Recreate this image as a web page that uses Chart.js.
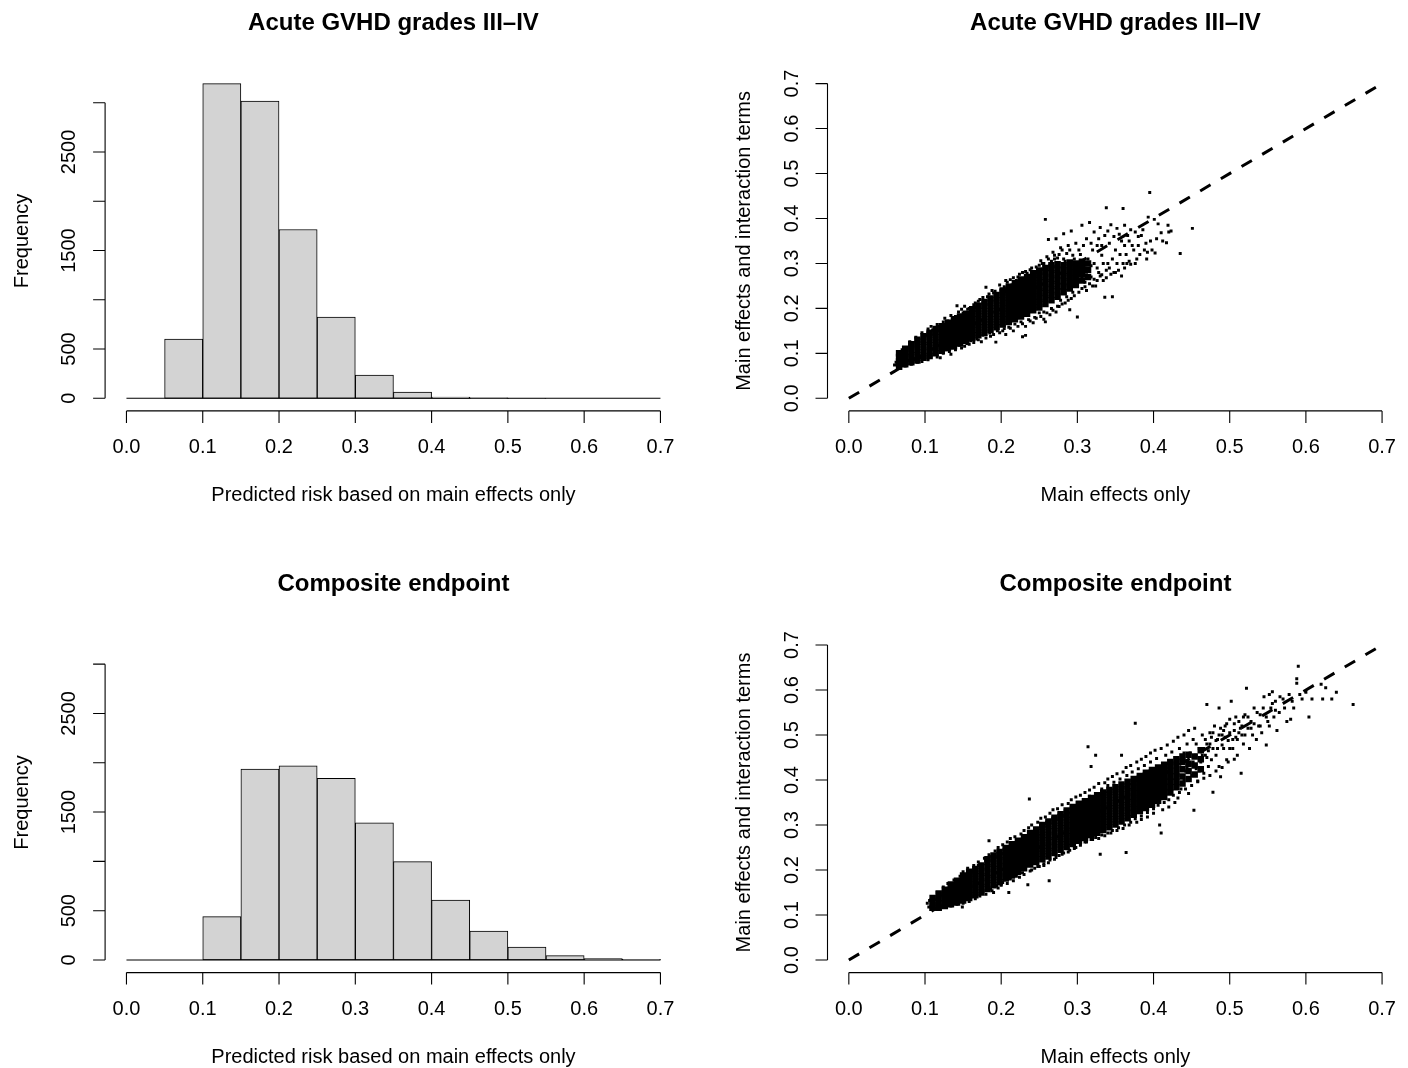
<!DOCTYPE html>
<html>
<head>
<meta charset="utf-8">
<title>Predicted risk: main effects vs interaction terms</title>
<script src="https://cdn.jsdelivr.net/npm/chart.js@4.4.1/dist/chart.umd.min.js"></script>
<style>
  html, body { margin: 0; padding: 0; background: #fff; }
  #wrap { position: relative; width: 1408px; height: 1068px; }
  #wrap canvas { position: absolute; left: 0; top: 0; }
</style>
</head>
<body>
<div id="wrap">
  <canvas id="acuteHist" width="1408" height="1068"></canvas>
  <canvas id="acuteScatter" width="1408" height="1068"></canvas>
  <canvas id="compHist" width="1408" height="1068"></canvas>
  <canvas id="compScatter" width="1408" height="1068"></canvas>
</div>
<script>
// --- data ---
const binEdges = [0, 0.05, 0.1, 0.15, 0.2, 0.25, 0.3, 0.35, 0.4, 0.45, 0.5, 0.55, 0.6, 0.65, 0.7];
const acuteCounts = [0, 601, 3194, 3017, 1713, 824, 236, 64, 13, 5, 1, 0, 0, 0];
const compositeCounts = [0, 0, 439, 1936, 1970, 1841, 1392, 997, 608, 294, 132, 44, 14, 6];

const riskTicks = [0, 0.1, 0.2, 0.3, 0.4, 0.5, 0.6, 0.7];
const riskLabels = ['0.0', '0.1', '0.2', '0.3', '0.4', '0.5', '0.6', '0.7'];
const freqTicks = [0, 500, 1000, 1500, 2000, 2500, 3000];
const freqLabels = ['0', '500', '', '1500', '', '2500', ''];
const identityLine = [0, 0.7];

// dense part of the clouds: x columns and the y values seen in each
const acuteCoreX = [0.066, 0.074, 0.082, 0.090, 0.098, 0.106, 0.114, 0.122, 0.130, 0.138, 0.146, 0.154, 0.162, 0.170, 0.178,
  0.186, 0.194, 0.202, 0.210, 0.218, 0.226, 0.234, 0.242, 0.250, 0.258, 0.266, 0.274, 0.282, 0.290, 0.298, 0.306, 0.314];
const acuteCoreY = [
  [0.070, 0.082, 0.092, 0.100], [0.076, 0.088, 0.100, 0.110], [0.080, 0.092, 0.104, 0.116, 0.120],
  [0.084, 0.096, 0.108, 0.120, 0.130], [0.090, 0.102, 0.114, 0.126, 0.138], [0.094, 0.106, 0.118, 0.130, 0.142, 0.146],
  [0.100, 0.112, 0.124, 0.136, 0.148, 0.154], [0.106, 0.118, 0.130, 0.142, 0.154, 0.160], [0.112, 0.124, 0.136, 0.148, 0.160, 0.168],
  [0.116, 0.128, 0.140, 0.152, 0.164, 0.176], [0.122, 0.134, 0.146, 0.158, 0.170, 0.182], [0.128, 0.140, 0.152, 0.164, 0.176, 0.188],
  [0.134, 0.146, 0.158, 0.170, 0.182, 0.194, 0.198], [0.140, 0.152, 0.164, 0.176, 0.188, 0.200, 0.206],
  [0.146, 0.158, 0.170, 0.182, 0.194, 0.206, 0.214], [0.152, 0.164, 0.176, 0.188, 0.200, 0.212, 0.222],
  [0.158, 0.170, 0.182, 0.194, 0.206, 0.218, 0.230], [0.164, 0.176, 0.188, 0.200, 0.212, 0.224, 0.236, 0.240],
  [0.170, 0.182, 0.194, 0.206, 0.218, 0.230, 0.242, 0.248], [0.176, 0.188, 0.200, 0.212, 0.224, 0.236, 0.248, 0.256],
  [0.182, 0.194, 0.206, 0.218, 0.230, 0.242, 0.254, 0.264], [0.188, 0.200, 0.212, 0.224, 0.236, 0.248, 0.260, 0.270],
  [0.196, 0.208, 0.220, 0.232, 0.244, 0.256, 0.268, 0.278], [0.202, 0.214, 0.226, 0.238, 0.250, 0.262, 0.274, 0.284],
  [0.210, 0.222, 0.234, 0.246, 0.258, 0.270, 0.282, 0.290], [0.218, 0.230, 0.242, 0.254, 0.266, 0.278, 0.290, 0.296],
  [0.226, 0.238, 0.250, 0.262, 0.274, 0.286, 0.298], [0.236, 0.248, 0.260, 0.272, 0.284, 0.296],
  [0.244, 0.256, 0.268, 0.280, 0.292, 0.302], [0.252, 0.264, 0.276, 0.288, 0.300], [0.262, 0.276, 0.290, 0.304],
  [0.270, 0.286, 0.300]
];
// scattered points around and beyond the dense part
const acuteSpread = [
  [0.060, 0.074], [0.062, 0.080], [0.064, 0.086], [0.068, 0.075], [0.070, 0.098], [0.072, 0.080], [0.076, 0.112], [0.078, 0.084],
  [0.084, 0.120], [0.086, 0.088], [0.092, 0.130], [0.094, 0.090], [0.100, 0.092], [0.102, 0.140], [0.105, 0.090], [0.110, 0.152],
  [0.112, 0.098], [0.118, 0.160], [0.120, 0.090], [0.121, 0.103], [0.128, 0.108], [0.130, 0.172], [0.136, 0.112], [0.140, 0.182],
  [0.142, 0.206], [0.145, 0.118], [0.150, 0.190], [0.155, 0.122], [0.158, 0.200], [0.160, 0.128], [0.166, 0.212], [0.168, 0.132],
  [0.172, 0.220], [0.176, 0.140], [0.180, 0.247], [0.182, 0.226], [0.185, 0.145], [0.190, 0.234], [0.193, 0.125], [0.195, 0.150],
  [0.200, 0.242], [0.204, 0.155], [0.206, 0.262], [0.210, 0.158], [0.214, 0.252], [0.218, 0.165], [0.222, 0.270], [0.226, 0.170],
  [0.228, 0.137], [0.232, 0.140], [0.234, 0.278], [0.236, 0.175], [0.240, 0.290], [0.244, 0.180], [0.248, 0.284], [0.250, 0.190],
  [0.254, 0.300], [0.256, 0.192], [0.258, 0.170], [0.258, 0.398], [0.262, 0.353], [0.262, 0.310], [0.264, 0.296], [0.266, 0.200],
  [0.268, 0.325], [0.270, 0.310], [0.272, 0.355], [0.274, 0.205], [0.276, 0.320], [0.278, 0.218], [0.280, 0.330], [0.282, 0.366],
  [0.284, 0.305], [0.286, 0.226], [0.288, 0.340], [0.290, 0.197], [0.292, 0.372], [0.292, 0.250], [0.294, 0.236], [0.296, 0.310],
  [0.296, 0.265], [0.298, 0.280], [0.300, 0.181], [0.300, 0.250], [0.300, 0.275], [0.302, 0.300], [0.304, 0.320], [0.304, 0.285],
  [0.306, 0.385], [0.306, 0.268], [0.308, 0.260], [0.310, 0.290], [0.310, 0.258], [0.312, 0.240], [0.312, 0.275], [0.314, 0.310],
  [0.316, 0.391], [0.316, 0.285], [0.318, 0.270], [0.318, 0.295], [0.320, 0.330], [0.322, 0.300], [0.322, 0.265], [0.324, 0.250],
  [0.326, 0.340], [0.326, 0.290], [0.328, 0.280], [0.330, 0.380], [0.330, 0.272], [0.332, 0.318], [0.334, 0.262], [0.334, 0.300],
  [0.336, 0.225], [0.338, 0.424], [0.338, 0.285], [0.340, 0.300], [0.342, 0.345], [0.342, 0.290], [0.344, 0.386], [0.346, 0.226],
  [0.346, 0.310], [0.348, 0.280], [0.350, 0.330], [0.350, 0.280], [0.352, 0.300], [0.355, 0.365], [0.356, 0.320], [0.358, 0.272],
  [0.360, 0.422], [0.360, 0.300], [0.362, 0.340], [0.364, 0.320], [0.365, 0.300], [0.368, 0.350], [0.370, 0.298], [0.374, 0.330],
  [0.376, 0.370], [0.378, 0.310], [0.380, 0.340], [0.384, 0.362], [0.388, 0.330], [0.391, 0.310], [0.393, 0.403], [0.395, 0.458],
  [0.396, 0.350], [0.398, 0.330], [0.401, 0.398], [0.402, 0.323], [0.404, 0.355], [0.406, 0.388], [0.410, 0.368], [0.412, 0.350],
  [0.417, 0.346], [0.419, 0.385], [0.420, 0.370], [0.423, 0.372], [0.435, 0.322], [0.451, 0.378],
  // upper edge
  [0.070, 0.108], [0.080, 0.126], [0.088, 0.136], [0.096, 0.146], [0.104, 0.154], [0.108, 0.160], [0.116, 0.164], [0.124, 0.170],
  [0.126, 0.178], [0.134, 0.184], [0.144, 0.192], [0.148, 0.198], [0.152, 0.205], [0.156, 0.198], [0.164, 0.208], [0.170, 0.216],
  [0.176, 0.224], [0.184, 0.232], [0.188, 0.240], [0.192, 0.238], [0.198, 0.252], [0.204, 0.248], [0.208, 0.258], [0.212, 0.264],
  [0.216, 0.268], [0.220, 0.262], [0.224, 0.276], [0.228, 0.280], [0.232, 0.282], [0.238, 0.286], [0.240, 0.278], [0.246, 0.292],
  [0.250, 0.296], [0.252, 0.306], [0.256, 0.300], [0.260, 0.315], [0.266, 0.305], [0.270, 0.318], [0.274, 0.312], [0.278, 0.335],
  [0.282, 0.310], [0.286, 0.322], [0.290, 0.330], [0.294, 0.318], [0.298, 0.345], [0.302, 0.330], [0.308, 0.340], [0.312, 0.355],
  [0.318, 0.345], [0.322, 0.370], [0.328, 0.355], [0.332, 0.340], [0.336, 0.362], [0.340, 0.372], [0.348, 0.360], [0.352, 0.378],
  [0.358, 0.350], [0.362, 0.385], [0.366, 0.362], [0.370, 0.375], [0.372, 0.340], [0.380, 0.360], [0.386, 0.375], [0.390, 0.345],
  // lower edge
  [0.074, 0.072], [0.082, 0.076], [0.090, 0.080], [0.096, 0.082], [0.104, 0.086], [0.108, 0.094], [0.116, 0.092], [0.124, 0.100],
  [0.132, 0.104], [0.134, 0.098], [0.140, 0.108], [0.148, 0.112], [0.152, 0.116], [0.158, 0.120], [0.164, 0.124], [0.170, 0.130],
  [0.174, 0.126], [0.180, 0.134], [0.186, 0.138], [0.190, 0.142], [0.198, 0.146], [0.202, 0.150], [0.206, 0.142], [0.212, 0.156],
  [0.216, 0.150], [0.222, 0.160], [0.228, 0.166], [0.232, 0.160], [0.238, 0.172], [0.242, 0.168], [0.246, 0.178], [0.252, 0.182],
  [0.256, 0.176], [0.260, 0.190], [0.264, 0.186], [0.268, 0.196], [0.272, 0.192], [0.276, 0.204], [0.280, 0.210], [0.284, 0.212],
  [0.288, 0.218], [0.292, 0.222], [0.296, 0.228], [0.302, 0.236], [0.306, 0.244], [0.310, 0.248], [0.316, 0.255], [0.320, 0.250],
  [0.326, 0.262], [0.332, 0.275], [0.338, 0.268], [0.344, 0.276], [0.354, 0.285], [0.362, 0.290], [0.368, 0.305], [0.376, 0.300],
  [0.382, 0.320], [0.392, 0.325]
];

const compCoreX = [0.110, 0.118, 0.126, 0.134, 0.142, 0.150, 0.158, 0.166, 0.174, 0.182, 0.190, 0.198, 0.206, 0.214, 0.222,
  0.230, 0.238, 0.246, 0.254, 0.262, 0.270, 0.278, 0.286, 0.294, 0.302, 0.310, 0.318, 0.326, 0.334, 0.342, 0.350, 0.358,
  0.366, 0.374, 0.382, 0.390, 0.398, 0.406, 0.414, 0.422, 0.430, 0.438, 0.446, 0.454, 0.462];
const compCoreY = [
  [0.116, 0.122, 0.130, 0.138], [0.116, 0.126, 0.138, 0.148], [0.120, 0.132, 0.144, 0.156], [0.124, 0.136, 0.148, 0.160, 0.168],
  [0.128, 0.140, 0.152, 0.164, 0.176], [0.132, 0.144, 0.156, 0.168, 0.180, 0.188], [0.138, 0.150, 0.162, 0.174, 0.186, 0.196],
  [0.144, 0.156, 0.168, 0.180, 0.192, 0.202], [0.150, 0.162, 0.174, 0.186, 0.198, 0.210],
  [0.158, 0.170, 0.182, 0.194, 0.206, 0.218, 0.224], [0.166, 0.178, 0.190, 0.202, 0.214, 0.226, 0.232],
  [0.173, 0.185, 0.197, 0.209, 0.221, 0.233, 0.240], [0.181, 0.193, 0.205, 0.217, 0.229, 0.241, 0.249],
  [0.188, 0.200, 0.212, 0.224, 0.236, 0.248, 0.257], [0.196, 0.208, 0.220, 0.232, 0.244, 0.256, 0.265],
  [0.204, 0.216, 0.228, 0.240, 0.252, 0.264, 0.273], [0.212, 0.224, 0.236, 0.248, 0.260, 0.272, 0.282],
  [0.218, 0.230, 0.242, 0.254, 0.266, 0.278, 0.290], [0.224, 0.236, 0.248, 0.260, 0.272, 0.284, 0.296, 0.300],
  [0.230, 0.242, 0.254, 0.266, 0.278, 0.290, 0.302, 0.308], [0.238, 0.250, 0.262, 0.274, 0.286, 0.298, 0.310, 0.316],
  [0.245, 0.257, 0.269, 0.281, 0.293, 0.305, 0.317, 0.324], [0.251, 0.263, 0.275, 0.287, 0.299, 0.311, 0.323, 0.332],
  [0.258, 0.270, 0.282, 0.294, 0.306, 0.318, 0.330, 0.340], [0.265, 0.277, 0.289, 0.301, 0.313, 0.325, 0.337, 0.347],
  [0.271, 0.283, 0.295, 0.307, 0.319, 0.331, 0.343, 0.353], [0.278, 0.290, 0.302, 0.314, 0.326, 0.338, 0.350, 0.360],
  [0.283, 0.295, 0.307, 0.319, 0.331, 0.343, 0.356, 0.366], [0.289, 0.301, 0.313, 0.325, 0.337, 0.349, 0.362, 0.372],
  [0.295, 0.307, 0.319, 0.331, 0.343, 0.355, 0.368, 0.378], [0.301, 0.313, 0.325, 0.337, 0.349, 0.361, 0.374, 0.384],
  [0.308, 0.320, 0.332, 0.344, 0.356, 0.368, 0.380, 0.390], [0.315, 0.327, 0.339, 0.351, 0.363, 0.375, 0.386, 0.396],
  [0.323, 0.335, 0.347, 0.359, 0.371, 0.383, 0.395, 0.402], [0.331, 0.343, 0.355, 0.367, 0.379, 0.391, 0.403, 0.409],
  [0.338, 0.350, 0.362, 0.374, 0.386, 0.398, 0.410, 0.416], [0.345, 0.357, 0.369, 0.381, 0.393, 0.405, 0.417, 0.422],
  [0.354, 0.366, 0.378, 0.390, 0.402, 0.416, 0.428], [0.362, 0.374, 0.386, 0.398, 0.410, 0.422, 0.434],
  [0.372, 0.384, 0.396, 0.408, 0.420, 0.432, 0.440], [0.384, 0.396, 0.408, 0.420, 0.434, 0.446],
  [0.392, 0.408, 0.424, 0.440, 0.452], [0.402, 0.420, 0.436, 0.456], [0.412, 0.432, 0.452], [0.424, 0.446, 0.466]
];
const compSpread = [
  [0.103, 0.126], [0.105, 0.118], [0.106, 0.132], [0.108, 0.112], [0.112, 0.138], [0.114, 0.114], [0.120, 0.146], [0.122, 0.120],
  [0.128, 0.156], [0.130, 0.125], [0.136, 0.166], [0.140, 0.130], [0.144, 0.176], [0.149, 0.118], [0.152, 0.134], [0.154, 0.186],
  [0.160, 0.140], [0.162, 0.196], [0.168, 0.145], [0.170, 0.210], [0.176, 0.152], [0.180, 0.222], [0.184, 0.265], [0.186, 0.158],
  [0.188, 0.230], [0.190, 0.150], [0.194, 0.165], [0.196, 0.240], [0.202, 0.172], [0.204, 0.250], [0.210, 0.150], [0.212, 0.180],
  [0.216, 0.258], [0.220, 0.186], [0.224, 0.266], [0.228, 0.194], [0.232, 0.275], [0.235, 0.167], [0.237, 0.358], [0.240, 0.200],
  [0.244, 0.286], [0.248, 0.208], [0.252, 0.296], [0.256, 0.214], [0.260, 0.304], [0.263, 0.176], [0.264, 0.222], [0.268, 0.316],
  [0.272, 0.228], [0.276, 0.325], [0.280, 0.235], [0.284, 0.332], [0.288, 0.240], [0.292, 0.340], [0.296, 0.248], [0.300, 0.350],
  [0.304, 0.255], [0.308, 0.356], [0.312, 0.262], [0.314, 0.474], [0.316, 0.364], [0.318, 0.430], [0.320, 0.268], [0.324, 0.455],
  [0.325, 0.370], [0.328, 0.270], [0.330, 0.235], [0.332, 0.380], [0.336, 0.276], [0.340, 0.388], [0.344, 0.282], [0.348, 0.395],
  [0.352, 0.288], [0.356, 0.402], [0.358, 0.455], [0.360, 0.292], [0.364, 0.239], [0.365, 0.410], [0.368, 0.300], [0.372, 0.418],
  [0.376, 0.526], [0.378, 0.306], [0.380, 0.425], [0.384, 0.312], [0.388, 0.432], [0.392, 0.318], [0.396, 0.440], [0.400, 0.326],
  [0.404, 0.448], [0.408, 0.300], [0.410, 0.282], [0.412, 0.334], [0.416, 0.455], [0.420, 0.340], [0.424, 0.462], [0.428, 0.350],
  [0.432, 0.360], [0.432, 0.445], [0.434, 0.470], [0.436, 0.380], [0.436, 0.410], [0.438, 0.448], [0.440, 0.400], [0.440, 0.460],
  [0.442, 0.420], [0.444, 0.480], [0.444, 0.430], [0.446, 0.370], [0.448, 0.435], [0.448, 0.460], [0.450, 0.410], [0.452, 0.490],
  [0.452, 0.440], [0.453, 0.333], [0.455, 0.455], [0.456, 0.425], [0.456, 0.480], [0.458, 0.398], [0.460, 0.470], [0.460, 0.420],
  [0.462, 0.440], [0.464, 0.500], [0.464, 0.455], [0.466, 0.415], [0.468, 0.455], [0.468, 0.490], [0.470, 0.568], [0.470, 0.480],
  [0.472, 0.430], [0.472, 0.465], [0.474, 0.505], [0.476, 0.445], [0.476, 0.495], [0.478, 0.373], [0.478, 0.470], [0.480, 0.520],
  [0.482, 0.455], [0.484, 0.490], [0.484, 0.470], [0.486, 0.560], [0.486, 0.430], [0.488, 0.407], [0.488, 0.515], [0.490, 0.500],
  [0.492, 0.470], [0.494, 0.520], [0.494, 0.495], [0.496, 0.445], [0.498, 0.488], [0.500, 0.535], [0.500, 0.470], [0.502, 0.575],
  [0.504, 0.470], [0.506, 0.510], [0.506, 0.525], [0.508, 0.495], [0.510, 0.455], [0.510, 0.490], [0.512, 0.530], [0.514, 0.515],
  [0.515, 0.415], [0.516, 0.500], [0.518, 0.480], [0.518, 0.540], [0.520, 0.545], [0.522, 0.604], [0.524, 0.515], [0.526, 0.470],
  [0.528, 0.530], [0.530, 0.500], [0.532, 0.560], [0.535, 0.490], [0.538, 0.520], [0.540, 0.545], [0.542, 0.505], [0.545, 0.585],
  [0.548, 0.478], [0.550, 0.530], [0.552, 0.590], [0.554, 0.560], [0.556, 0.596], [0.558, 0.540], [0.560, 0.575], [0.562, 0.510],
  [0.565, 0.550], [0.570, 0.580], [0.575, 0.530], [0.580, 0.535], [0.584, 0.560], [0.588, 0.615], [0.588, 0.625], [0.590, 0.653],
  [0.595, 0.580], [0.600, 0.595], [0.604, 0.540], [0.608, 0.580], [0.620, 0.613], [0.622, 0.580], [0.626, 0.605], [0.634, 0.580],
  [0.640, 0.595], [0.662, 0.568],
  // upper edge
  [0.116, 0.150], [0.124, 0.162], [0.130, 0.170], [0.138, 0.178], [0.146, 0.186], [0.150, 0.196], [0.156, 0.204], [0.164, 0.210],
  [0.170, 0.218], [0.178, 0.226], [0.184, 0.234], [0.192, 0.242], [0.196, 0.250], [0.202, 0.256], [0.208, 0.262], [0.212, 0.270],
  [0.218, 0.274], [0.226, 0.280], [0.230, 0.288], [0.236, 0.294], [0.240, 0.300], [0.248, 0.306], [0.252, 0.315], [0.258, 0.318],
  [0.264, 0.326], [0.268, 0.334], [0.274, 0.336], [0.280, 0.345], [0.288, 0.348], [0.292, 0.356], [0.298, 0.362], [0.304, 0.366],
  [0.310, 0.372], [0.316, 0.378], [0.322, 0.384], [0.328, 0.392], [0.336, 0.394], [0.340, 0.402], [0.346, 0.408], [0.352, 0.414],
  [0.360, 0.418], [0.364, 0.428], [0.370, 0.432], [0.378, 0.440], [0.384, 0.446], [0.390, 0.452], [0.396, 0.460], [0.402, 0.466],
  [0.410, 0.470], [0.418, 0.478], [0.426, 0.486], [0.432, 0.495], [0.440, 0.500], [0.446, 0.510], [0.454, 0.515],
  // lower edge
  [0.126, 0.118], [0.134, 0.120], [0.142, 0.124], [0.150, 0.126], [0.158, 0.130], [0.166, 0.136], [0.172, 0.142], [0.180, 0.146],
  [0.188, 0.154], [0.196, 0.160], [0.200, 0.166], [0.208, 0.170], [0.216, 0.176], [0.224, 0.184], [0.230, 0.190], [0.238, 0.198],
  [0.244, 0.204], [0.250, 0.208], [0.256, 0.210], [0.262, 0.216], [0.270, 0.224], [0.276, 0.232], [0.282, 0.238], [0.290, 0.244],
  [0.298, 0.250], [0.304, 0.258], [0.310, 0.262], [0.318, 0.268], [0.324, 0.272], [0.332, 0.278], [0.340, 0.282], [0.346, 0.288],
  [0.354, 0.294], [0.362, 0.300], [0.370, 0.306], [0.376, 0.314], [0.384, 0.320], [0.392, 0.328], [0.400, 0.336], [0.406, 0.344],
  [0.414, 0.350], [0.420, 0.356], [0.426, 0.366], [0.434, 0.372], [0.442, 0.380], [0.450, 0.388], [0.458, 0.396], [0.466, 0.404],
  [0.474, 0.410], [0.482, 0.420], [0.490, 0.428], [0.498, 0.440], [0.506, 0.446],
  // thinner cloud towards the top end
  [0.466, 0.470], [0.470, 0.450], [0.474, 0.480], [0.478, 0.505], [0.482, 0.488], [0.486, 0.500], [0.490, 0.478], [0.492, 0.510],
  [0.496, 0.525], [0.500, 0.505], [0.504, 0.490], [0.508, 0.540], [0.512, 0.505], [0.516, 0.520], [0.520, 0.500], [0.524, 0.540],
  [0.528, 0.515], [0.532, 0.525], [0.536, 0.550], [0.540, 0.520], [0.544, 0.560], [0.548, 0.540], [0.552, 0.520], [0.556, 0.570],
  [0.560, 0.555], [0.566, 0.585], [0.572, 0.560], [0.578, 0.590], [0.582, 0.575], [0.592, 0.590]
];

// --- R-like base graphics look ---
const FONT = '"Liberation Sans", Arial, Helvetica, sans-serif';

// axes detached from the plot region, tick labels parallel to the axis, titles
const rAxes = {
  id: 'rAxes',
  afterDraw(chart, args, o) {
    const ctx = chart.ctx;
    const a = chart.chartArea;
    const xs = chart.scales.x;
    const ys = chart.scales.y;
    ctx.save();
    ctx.strokeStyle = '#000';
    ctx.fillStyle = '#000';
    ctx.lineWidth = 1.1;

    ctx.beginPath();
    ctx.moveTo(xs.getPixelForValue(o.xTicks[0]), a.bottom);
    ctx.lineTo(xs.getPixelForValue(o.xTicks[o.xTicks.length - 1]), a.bottom);
    o.xTicks.forEach(v => {
      const p = xs.getPixelForValue(v);
      ctx.moveTo(p, a.bottom);
      ctx.lineTo(p, a.bottom + 12);
    });
    ctx.moveTo(a.left, ys.getPixelForValue(o.yTicks[0]));
    ctx.lineTo(a.left, ys.getPixelForValue(o.yTicks[o.yTicks.length - 1]));
    o.yTicks.forEach(v => {
      const p = ys.getPixelForValue(v);
      ctx.moveTo(a.left, p);
      ctx.lineTo(a.left - 12, p);
    });
    ctx.stroke();

    ctx.font = '20px ' + FONT;
    ctx.textAlign = 'center';
    ctx.textBaseline = 'middle';
    o.xTicks.forEach((v, i) => ctx.fillText(o.xLabels[i], xs.getPixelForValue(v), a.bottom + 36.6));
    o.yTicks.forEach((v, i) => {
      if (!o.yLabels[i]) return;
      ctx.save();
      ctx.translate(a.left - 35.5, ys.getPixelForValue(v));
      ctx.rotate(-Math.PI / 2);
      ctx.fillText(o.yLabels[i], 0, 0);
      ctx.restore();
    });

    const cx = (a.left + a.right) / 2;
    ctx.fillText(o.xTitle, cx, a.bottom + 84.4);
    ctx.save();
    ctx.translate(a.left - 83, (a.top + a.bottom) / 2);
    ctx.rotate(-Math.PI / 2);
    ctx.fillText(o.yTitle, 0, 0);
    ctx.restore();

    ctx.font = 'bold 24px ' + FONT;
    ctx.textBaseline = 'alphabetic';
    ctx.fillText(o.title, cx, a.top - 41.5);
    ctx.restore();
  }
};

// histogram bins have a bottom edge even when empty
const histBase = {
  id: 'histBase',
  afterDatasetsDraw(chart) {
    const xs = chart.scales.x;
    const y0 = chart.scales.y.getPixelForValue(0);
    const ctx = chart.ctx;
    ctx.save();
    ctx.strokeStyle = '#000';
    ctx.lineWidth = 1.1;
    ctx.beginPath();
    ctx.moveTo(xs.getPixelForValue(binEdges[0]), y0);
    ctx.lineTo(xs.getPixelForValue(binEdges[binEdges.length - 1]), y0);
    ctx.stroke();
    ctx.restore();
  }
};

const riskMin = -0.04 * identityLine[1];
const riskMax = identityLine[1] * 1.04;
const freqTop = Math.max(...acuteCounts, ...compositeCounts);

function padFor(col, row) {
  // plot regions of the 2 x 2 layout
  return {
    left: col === 0 ? 105.1 : 827.5,
    right: col === 0 ? 726.2 : 4.4,
    top: row === 0 ? 71 : 632.4,
    bottom: row === 0 ? 657.1 : 95.4
  };
}

function histogram(id, counts, title, col, row) {
  const bars = counts.map((c, i) => ({ x: (binEdges[i] + binEdges[i + 1]) / 2, y: c }));
  new Chart(document.getElementById(id), {
    type: 'bar',
    data: {
      datasets: [{
        data: bars,
        backgroundColor: '#D3D3D3',
        borderColor: '#000',
        borderWidth: 1,
        borderSkipped: false,
        barPercentage: 1,
        categoryPercentage: 1
      }]
    },
    options: {
      responsive: false,
      animation: false,
      events: [],
      layout: { padding: padFor(col, row) },
      scales: {
        x: { type: 'linear', display: false, min: riskMin, max: riskMax, offset: false },
        y: { display: false, min: -0.04 * freqTop, max: freqTop * 1.04 }
      },
      plugins: {
        legend: { display: false },
        tooltip: { enabled: false },
        rAxes: {
          title: title,
          xTitle: 'Predicted risk based on main effects only',
          yTitle: 'Frequency',
          xTicks: riskTicks, xLabels: riskLabels,
          yTicks: freqTicks, yLabels: freqLabels
        }
      }
    },
    plugins: [histBase, rAxes]
  });
}

function scatter(id, coreX, coreY, spread, title, col, row) {
  const core = [];
  coreX.forEach((x, i) => coreY[i].forEach(y => core.push({ x: x, y: y })));
  new Chart(document.getElementById(id), {
    type: 'scatter',
    data: {
      datasets: [
        {
          data: core,
          pointStyle: 'rect',
          pointRadius: 4.6,
          backgroundColor: '#000',
          borderWidth: 0
        },
        {
          data: spread.map(p => ({ x: p[0], y: p[1] })),
          pointStyle: 'rect',
          pointRadius: 2.1,
          backgroundColor: '#000',
          borderWidth: 0
        },
        {
          data: identityLine.map(v => ({ x: v, y: v })),
          showLine: true,
          borderColor: '#000',
          borderWidth: 3,
          borderDash: [12, 12],
          pointRadius: 0
        }
      ]
    },
    options: {
      responsive: false,
      animation: false,
      events: [],
      layout: { padding: padFor(col, row) },
      scales: {
        x: { type: 'linear', display: false, min: riskMin, max: riskMax },
        y: { type: 'linear', display: false, min: riskMin, max: riskMax }
      },
      plugins: {
        legend: { display: false },
        tooltip: { enabled: false },
        rAxes: {
          title: title,
          xTitle: 'Main effects only',
          yTitle: 'Main effects and interaction terms',
          xTicks: riskTicks, xLabels: riskLabels,
          yTicks: riskTicks, yLabels: riskLabels
        }
      }
    },
    plugins: [rAxes]
  });
}

histogram('acuteHist', acuteCounts, 'Acute GVHD grades III\u2013IV', 0, 0);
scatter('acuteScatter', acuteCoreX, acuteCoreY, acuteSpread, 'Acute GVHD grades III\u2013IV', 1, 0);
histogram('compHist', compositeCounts, 'Composite endpoint', 0, 1);
scatter('compScatter', compCoreX, compCoreY, compSpread, 'Composite endpoint', 1, 1);
</script>
</body>
</html>
